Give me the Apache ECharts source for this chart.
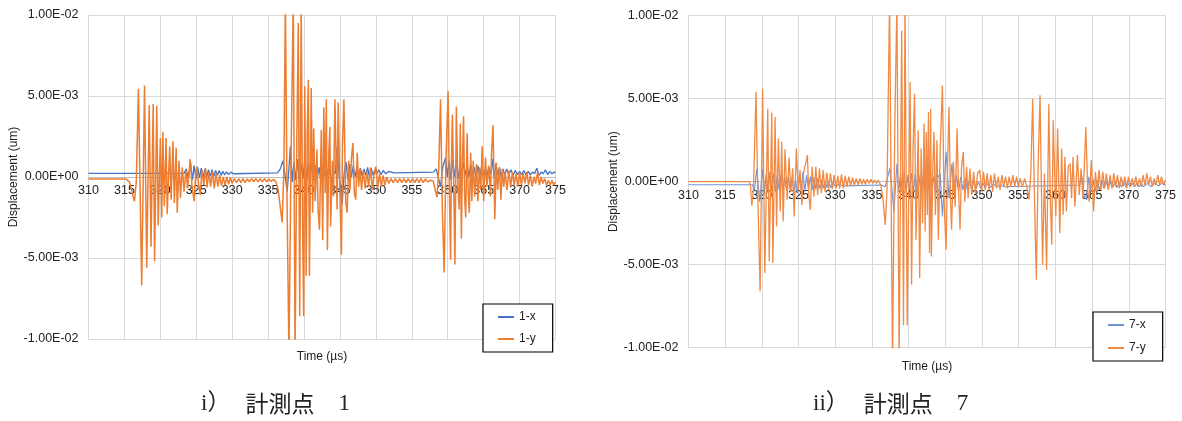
<!DOCTYPE html>
<html>
<head>
<meta charset="utf-8">
<script src="https://cdn.jsdelivr.net/npm/echarts@6/dist/echarts.min.js"></script>
<style>
html,body{margin:0;padding:0;background:#fff;}
#c{width:1182px;height:421px;}
</style>
</head>
<body>
<div id="c"></div>
<script>
// Values in units of 1e-3 um; time in microseconds
const xTicks = [310,315,320,325,330,335,340,345,350,355,360,365,370,375];
const yTicks = [-10,-5,0,5,10];

const t1x = [310,323.3,323.6,323.9,324.2,324.45,324.7,324.95,325.2,325.45,325.7,325.95,326.2,326.45,326.7,326.95,327.2,327.45,327.7,327.95,328.2,328.45,328.7,328.95,329.2,329.5,329.8,330.2,336.3,336.7,337.05,337.3,337.65,337.85,338.1,338.35,338.6,338.85,339.1,339.35,339.6,339.85,340.1,340.35,340.6,340.85,341.1,341.35,341.6,341.85,342.1,342.35,342.6,342.85,343.1,343.35,343.6,343.85,344.1,344.35,344.6,344.9,345.3,345.6,345.85,346.1,346.35,346.6,346.85,347.1,347.35,347.6,347.85,348.1,348.35,348.6,348.85,349.1,349.35,349.6,349.85,350.1,350.4,350.7,351.0,351.4,351.8,352.5,358.0,358.4,358.6,359.0,359.3,359.7,359.95,360.2,360.45,360.7,360.95,361.2,361.45,361.7,361.95,362.2,362.45,362.7,362.95,363.2,363.45,363.7,363.95,364.2,364.45,364.7,364.95,365.2,365.45,365.7,366.0,366.2,366.45,366.7,366.95,367.2,367.45,367.7,367.95,368.2,368.5,368.8,369.1,369.4,369.7,370.0,370.3,370.6,370.9,371.2,371.5,371.8,372.1,372.4,372.7,373.0,373.3,373.6,373.9,374.2,374.5,374.8,375];
const v1x = [0.22,0.22,0.5,-0.1,0.9,-0.2,0.7,-0.1,0.6,-0.05,0.55,0.0,0.5,0.0,0.45,0.05,0.45,0.05,0.4,0.1,0.4,0.1,0.35,0.12,0.32,0.15,0.3,0.2,0.25,0.5,1.0,0.3,-0.9,0.2,1.9,-0.3,0.9,-0.2,1.1,-0.4,0.8,-0.1,1.0,-0.3,0.9,0.0,0.8,-0.2,0.7,0.0,0.6,-0.3,0.6,0.1,0.7,0.0,0.5,-0.5,0.4,0.2,1.9,0.0,-1.7,0.3,0.9,-0.2,0.8,0.0,0.7,0.0,0.6,0.1,0.55,0.05,0.5,0.1,0.6,0.0,0.55,0.1,0.45,0.15,0.45,0.15,0.4,0.2,0.35,0.25,0.3,0.5,0.6,-0.6,0.6,1.2,0.0,1.0,-0.2,1.1,0.0,0.9,-0.1,0.8,0.0,0.9,0.1,0.7,0.0,0.8,0.1,0.6,-0.1,0.7,0.0,0.6,0.1,0.5,0.0,0.6,0.2,1.1,0.0,0.8,0.1,0.6,0.0,0.5,0.1,0.5,0.15,0.45,0.1,0.4,0.15,0.35,0.15,0.4,0.1,0.35,0.15,0.3,0.2,0.55,0.1,0.3,0.2,0.45,0.15,0.35,0.2,0.3,0.25];

const t1y = [310,315.2,315.7,316.1,316.4,316.65,316.95,317.4,317.8,318.1,318.45,318.7,319.0,319.2,319.5,319.7,320.0,320.2,320.35,320.55,320.8,320.95,321.3,321.5,321.75,321.95,322.2,322.35,322.6,322.8,323.05,323.3,323.55,323.8,324.15,324.4,324.7,324.95,325.1,325.3,325.55,325.8,326.05,326.3,326.5,326.75,327.0,327.25,327.5,327.75,328.0,328.25,328.5,328.75,329.0,329.25,329.5,329.75,330.0,330.3,330.6,330.9,331.2,331.5,331.8,332.1,332.4,332.7,333.0,333.3,333.6,333.9,334.2,334.5,334.8,335.1,335.4,335.7,336.1,336.4,336.95,337.2,337.4,337.65,337.9,338.2,338.5,338.75,339.0,339.2,339.4,339.6,339.8,339.95,340.1,340.3,340.45,340.6,340.75,341.0,341.2,341.35,341.55,341.8,341.95,342.15,342.4,342.6,342.75,342.95,343.1,343.25,343.45,343.6,343.7,343.95,344.1,344.3,344.6,344.75,345.0,345.2,345.35,345.55,345.8,346.0,346.2,346.4,346.6,346.8,347.0,347.2,347.4,347.6,347.8,348.0,348.25,348.5,348.75,349.0,349.25,349.5,349.75,350.0,350.25,350.5,350.75,351.0,351.25,351.5,351.8,352.1,352.4,352.7,353.0,353.3,353.6,353.9,354.2,354.5,354.8,355.1,355.4,355.7,356.0,356.3,356.6,356.9,357.2,357.6,358.0,358.3,358.5,358.75,359.0,359.25,359.5,359.75,360.05,360.25,360.4,360.5,360.65,360.85,361.0,361.2,361.4,361.6,361.75,361.9,362.05,362.2,362.35,362.5,362.7,362.85,363.0,363.2,363.35,363.55,363.75,364.0,364.2,364.4,364.6,364.8,365.0,365.25,365.45,365.7,365.95,366.1,366.3,366.55,366.75,366.95,367.2,367.4,367.6,367.8,368.0,368.25,368.5,368.75,369.0,369.25,369.5,369.75,370.0,370.25,370.5,370.75,371.0,371.25,371.5,371.75,372.0,372.25,372.5,372.75,373.0,373.25,373.5,373.75,374.0,374.25,374.5,374.75,375];
const v1y = [-0.12,-0.12,-0.3,-1.0,-1.5,-0.3,5.45,-6.7,5.65,-5.6,4.45,-4.3,4.5,-5.2,4.4,-3.0,2.4,-2.5,2.8,-1.8,2.4,-2.3,1.9,-1.4,2.2,-1.6,1.8,-2.2,1.0,-1.3,0.6,-0.9,0.4,-0.7,1.1,-0.5,-1.5,0.3,0.65,-0.4,-1.1,0.4,-0.5,0.55,-0.65,0.3,-0.6,0.35,-0.7,0.2,-0.6,0.1,-0.55,0.0,-0.5,0.0,-0.45,-0.05,-0.4,-0.1,-0.35,-0.1,-0.35,-0.1,-0.35,-0.12,-0.3,-0.1,-0.3,-0.1,-0.3,-0.1,-0.3,-0.1,-0.3,-0.12,-0.28,-0.15,-0.3,-0.8,-2.8,0.5,11,-2.0,-11,1.5,11,-11,2.5,9.5,-8.6,11,-3.0,-8.6,5.6,-6.1,3.0,6.0,-6.1,5.5,-2.2,3.0,-1.5,1.7,-2.0,-3.25,2.9,-3.9,4.3,-1.0,4.8,-4.5,1.5,3.1,-3.05,1.0,-1.2,4.8,-2.0,4.6,-1.0,-4.8,2.0,4.8,-1.5,-2.2,1.0,-0.8,1.2,2.1,-1.0,-1.4,1.5,-0.6,0.5,-0.8,0.4,-0.7,0.3,-0.6,0.6,-0.8,0.2,0.65,-0.7,0.2,-0.6,0.1,-0.5,0.0,-0.4,-0.1,-0.35,-0.1,-0.35,-0.1,-0.35,-0.1,-0.35,-0.1,-0.35,-0.1,-0.35,-0.1,-0.35,-0.1,-0.35,-0.12,-0.3,-0.2,-0.25,-0.9,-1.25,0.5,4.8,-2.0,-5.9,1.0,5.3,-1.5,-5.1,0.5,3.85,-1.0,-5.4,4.35,-0.5,-2.0,3.3,-3.8,1.0,3.75,-1.2,-2.5,2.7,-1.0,-2.2,1.5,-1.5,1.0,-1.2,0.8,-1.5,0.6,-0.8,1.9,-1.5,1.2,-0.6,0.7,-1.2,1.5,3.2,-2.6,0.9,-0.8,0.6,-1.4,0.5,-0.6,0.3,-0.8,0.4,-0.6,0.3,-0.5,0.2,-0.6,0.3,-0.5,0.2,-0.4,0.3,-0.5,0.1,-0.6,0.0,-0.4,0.3,-0.5,0.0,-0.4,-0.1,-0.5,-0.2,-0.5,-0.2,-0.5,-0.3];

const t7x = [310,318.7,319.0,319.3,319.7,320.1,320.35,320.6,320.85,321.1,321.35,321.6,321.85,322.1,322.35,322.6,322.85,323.1,323.35,323.6,323.85,324.1,324.35,324.6,324.85,325.1,325.35,325.6,325.85,326.1,326.35,326.6,326.85,327.1,327.35,327.6,327.85,328.1,328.35,328.6,328.85,329.1,329.4,329.7,330.0,330.5,331.0,336.3,336.8,337.1,337.45,338.0,338.4,338.65,338.9,339.15,339.4,339.65,339.9,340.15,340.4,340.65,340.9,341.15,341.4,341.65,341.9,342.15,342.4,342.65,342.9,343.15,343.4,343.65,343.9,344.3,344.6,345.1,345.5,345.9,346.2,346.5,346.8,347.1,347.4,347.7,348.0,348.3,348.6,348.9,349.2,349.5,349.8,350.1,350.4,350.8,351.2,351.6,352.0,352.5,353.0,363.3,363.6,363.9,364.25,364.55,364.8,365.1,365.4,365.7,366.0,366.3,366.6,366.9,367.2,367.5,367.8,368.1,368.4,368.7,369.0,369.3,369.6,369.9,370.2,370.5,370.8,371.1,371.4,371.7,372.0,372.5,373.0,373.5,374.0,374.5,375];
const v7x = [-0.18,-0.18,-0.5,0.75,-1.2,0.75,-0.6,0.5,-0.7,0.6,-0.6,0.5,-0.6,0.4,-0.5,0.4,-0.6,0.3,-0.5,0.3,-0.5,0.2,-0.6,0.1,-0.7,0.3,-0.5,0.6,-0.6,0.4,-0.5,0.3,-0.5,0.25,-0.45,0.2,-0.4,0.1,-0.4,0.05,-0.35,0.0,-0.35,-0.05,-0.3,-0.15,-0.25,-0.2,-0.3,0.2,0.8,-1.8,1.1,-0.6,0.5,-0.8,0.6,-0.7,0.4,-0.5,0.5,-0.6,0.5,-0.6,0.4,-0.5,0.3,-0.5,0.4,-0.4,0.7,-0.3,0.3,-0.8,0.2,0.5,-2.1,1.8,-1.0,1.1,-0.7,0.4,-0.6,0.3,-0.5,0.2,-0.5,0.1,-0.45,0.05,-0.4,0.0,-0.4,-0.05,-0.35,-0.1,-0.35,-0.15,-0.3,-0.2,-0.3,-0.2,0.3,-0.8,-1.1,0.3,-0.5,0.2,-0.6,0.1,-0.5,0.1,-0.4,0.0,-0.4,0.0,-0.35,-0.05,-0.35,-0.05,-0.3,-0.05,-0.3,-0.1,-0.3,-0.1,-0.3,-0.1,-0.3,-0.1,-0.3,-0.1,-0.3,-0.1,-0.25,-0.1,-0.2];

const t7y = [310,318.3,318.45,318.63,318.85,319.2,319.45,319.76,320.1,320.4,320.8,321.0,321.35,321.5,321.8,322.0,322.25,322.5,322.7,322.9,323.15,323.45,323.7,323.95,324.2,324.4,324.7,324.95,325.2,325.45,325.7,326.0,326.2,326.4,326.6,326.85,327.1,327.35,327.6,327.85,328.1,328.35,328.6,328.85,329.1,329.35,329.6,329.85,330.1,330.35,330.6,330.85,331.1,331.35,331.6,331.85,332.1,332.35,332.6,332.85,333.1,333.35,333.6,333.85,334.1,334.35,334.6,334.85,335.1,335.35,335.6,335.85,336.2,336.5,336.8,337.05,337.4,337.8,338.1,338.4,338.7,339.05,339.3,339.5,339.8,340.2,340.4,340.6,340.8,341.0,341.3,341.5,341.7,341.9,342.1,342.25,342.4,342.55,342.7,342.85,343.0,343.1,343.3,343.45,343.65,343.85,344.05,344.3,344.6,344.85,345.1,345.3,345.5,345.7,345.85,346.1,346.35,346.6,346.8,347.0,347.2,347.45,347.65,347.9,348.1,348.35,348.6,348.85,349.1,349.4,349.7,349.95,350.2,350.45,350.7,350.95,351.2,351.45,351.7,351.95,352.2,352.45,352.7,352.95,353.2,353.45,353.7,353.95,354.2,354.45,354.7,354.95,355.2,355.5,355.8,356.1,356.4,356.65,356.9,357.15,357.4,357.65,357.9,358.25,358.5,358.8,359.1,359.3,359.5,359.7,360.05,360.3,360.6,360.85,361.05,361.3,361.5,361.75,362.0,362.2,362.4,362.65,363.0,363.25,363.5,363.75,364.15,364.4,364.6,364.9,365.2,365.45,365.7,365.95,366.2,366.45,366.7,366.95,367.2,367.45,367.7,367.95,368.2,368.45,368.7,368.95,369.2,369.45,369.7,369.95,370.2,370.45,370.7,370.95,371.2,371.45,371.7,371.95,372.2,372.45,372.7,372.95,373.2,373.45,373.7,373.95,374.2,374.45,374.7,375];
const v7y = [0.0,0.0,-0.3,-1.45,-0.5,5.4,-1.0,-6.6,5.6,-5.5,4.4,-4.8,4.15,-4.9,3.9,-2.7,2.6,-1.8,2.4,-2.4,1.95,-1.1,1.45,-0.6,0.8,-2.1,2.0,-0.5,0.7,-1.4,0.6,1.15,1.6,-0.8,-1.7,0.9,-0.9,0.9,-0.8,0.8,-0.7,0.7,-0.6,0.55,-0.5,0.5,-0.45,0.4,-0.4,0.35,-0.4,0.45,-0.4,0.35,-0.3,0.3,-0.25,0.25,-0.2,0.2,-0.2,0.2,-0.15,0.15,-0.15,0.15,-0.1,0.15,-0.1,0.1,-0.1,0.1,-0.2,-1.0,-2.6,-0.5,11,-11,3.0,11,-11,9.1,-8.65,11,-8.65,6.0,-6.2,2.0,5.3,-3.5,3.1,-5.8,2.0,-2.5,3.5,-3.0,3.0,-2.0,4.2,-4.3,4.4,-4.5,1.0,3.0,-2.0,2.5,-3.5,2.0,5.8,-1.5,-4.1,1.0,4.5,-1.0,-2.9,1.2,-1.5,3.2,-0.5,-2.9,0.8,1.8,-1.2,0.9,-1.0,0.8,-0.8,0.6,-0.7,0.5,0.7,-0.6,0.6,-0.5,0.5,-0.5,0.4,-0.6,0.5,-0.4,0.3,-0.5,0.4,-0.3,0.3,-0.4,0.3,-0.3,0.4,-0.3,0.3,-0.3,0.2,-0.3,0.2,-0.3,-1.06,0.5,5.0,-1.0,-5.9,1.0,5.2,-5.0,0.5,-5.3,4.7,-1.0,-3.8,3.7,-2.1,3.2,-3.1,2.0,-2.0,1.5,-1.8,0.9,1.1,-1.0,1.5,-1.5,1.6,-0.8,0.8,-1.0,3.3,-0.5,-1.2,1.3,-1.8,0.6,-0.6,0.7,-0.5,0.6,-0.4,0.5,-0.5,0.4,-0.4,0.5,-0.3,0.4,-0.4,0.3,-0.3,0.3,-0.4,0.3,-0.3,0.2,-0.3,0.3,-0.3,0.2,-0.3,0.4,-0.2,0.5,-0.2,0.3,-0.3,0.2,-0.2,0.4,-0.2,0.3,-0.2,0.1];

const captionParts = [['i）', '計測点', '1'], ['ii）', '計測点', '7']];

function pairs(t, v){ return t.map((x,i)=>[x, v[i]]); }
function sci(v){
  const x = v/1000;
  if (Math.abs(x) < 1e-12) return '0.00E+00';
  let e = Math.floor(Math.log10(Math.abs(x)) + 1e-9);
  let m = x/Math.pow(10,e);
  let s = e<0 ? '-' : '+';
  return m.toFixed(2) + 'E' + s + String(Math.abs(e)).padStart(2,'0');
}

const FONT = 'Liberation Sans, Arial, sans-serif';
const gridCol = '#d9d9d9';
function xAx(gi, offset, gap){
  return {
    type:'value', gridIndex:gi, min:310, max:375, interval:5, position:'bottom', offset:offset, z:0,
    axisLine:{show:true, onZero:false, lineStyle:{color:'#bfbfbf', width:1}},
    axisTick:{show:false},
    axisLabel:{color:'#222', fontSize:12.5, fontFamily:FONT, margin:7},
    splitLine:{show:true, lineStyle:{color:gridCol, width:1}},
    name:'Time (µs)', nameLocation:'middle', nameGap:gap,
    nameTextStyle:{color:'#222', fontSize:12, fontFamily:FONT}
  };
}
function yAx(gi){
  return {
    type:'value', gridIndex:gi, min:-10, max:10, interval:5,
    axisLine:{show:true, onZero:false, lineStyle:{color:gridCol, width:1}},
    axisTick:{show:false},
    axisLabel:{color:'#222', fontSize:12.5, fontFamily:FONT, margin:10, formatter:sci},
    splitLine:{show:true, lineStyle:{color:gridCol, width:1}},
    name:'Displacement (um)', nameLocation:'middle', nameGap:62,
    nameTextStyle:{color:'#222', fontSize:12, fontFamily:FONT}
  };
}
function ser(name, gi, t, v, color, w){
  return {name, type:'line', xAxisIndex:gi, yAxisIndex:gi, data:pairs(t,v),
    showSymbol:false, symbol:'none', lineStyle:{color, width:w}, itemStyle:{color}, animation:false, z:3};
}
function legend(names, left, top, gap){
  return {data:names, orient:'vertical', left, top, itemWidth:16, itemHeight:2, icon:'rect',
    itemGap:gap, padding:[7,17,7,15], borderColor:'#000', borderWidth:1.2, backgroundColor:'#fff', z:6,
    textStyle:{color:'#222', fontSize:12, fontFamily:FONT}};
}
function caption(parts, left){
  return {type:'text', left:left, top:392, style:{
    text:'{a|' + parts[0] + '}{b|' + parts[1] + '}{c|' + parts[2] + '}',
    rich:{
      a:{fontSize:23, fontFamily:'"Liberation Serif","Noto Sans CJK JP"', fill:'#222'},
      b:{fontSize:23, fontFamily:'"Noto Sans CJK JP"', fill:'#222', padding:[0,0,0,15]},
      c:{fontSize:23, fontFamily:'"Liberation Serif","Noto Sans CJK JP"', fill:'#222', padding:[0,0,0,24]}
    }
  }};
}

const chart = echarts.init(document.getElementById('c'), null, {renderer:'canvas'});
chart.setOption({
  animation:false,
  backgroundColor:'#fff',
  grid:[
    {left:88.5, top:15, width:467, height:324, containLabel:false, outerBoundsMode:'none'},
    {left:688.5, top:15.7, width:477, height:332, containLabel:false, outerBoundsMode:'none'}
  ],
  xAxis:[xAx(0,-162,174), xAx(1,-166,179)],
  yAxis:[yAx(0), yAx(1)],
  legend:[legend(['1-x','1-y'], 483, 304, 10), legend(['7-x','7-y'], 1093, 312, 11)],
  series:[
    ser('1-x',0,t1x,v1x,'#4472C4',1.3),
    ser('1-y',0,t1y,v1y,'#ED7D31',1.5),
    ser('7-x',1,t7x,v7x,'#6F93D8',1.1),
    ser('7-y',1,t7y,v7y,'#F08A44',1.3)
  ],
  graphic:[caption(captionParts[0], 201), caption(captionParts[1], 813)]
});
</script>
</body>
</html>
